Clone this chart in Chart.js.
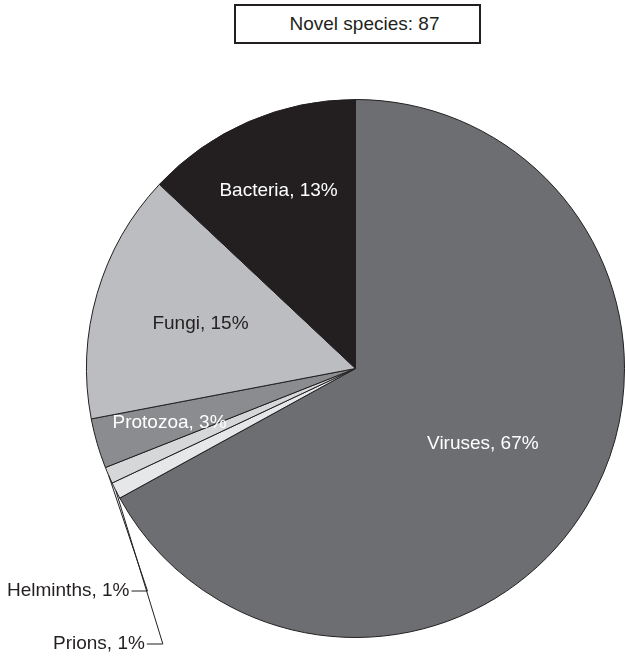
<!DOCTYPE html>
<html>
<head>
<meta charset="utf-8">
<script src="https://cdn.jsdelivr.net/npm/chart.js@4"></script>
<style>
  body { margin: 0; background: #fff; }
  #wrap { position: relative; width: 625px; height: 658px; overflow: hidden; }
  #total {
    position: absolute; left: 234px; top: 4px; width: 243px; height: 36px;
    border: 2px solid #231f20; background: #fff;
    font: 19px "Liberation Sans", Arial, sans-serif; color: #231f20;
    line-height: 36px; text-align: center; padding-left: 0; box-sizing: content-box;
  }
  #total span { position: relative; left: 7px; }
</style>
</head>
<body>
<div id="wrap">
  <canvas id="myChart" width="625" height="658"></canvas>
  <div id="total"><span>Novel species: 87</span></div>
</div>
<script>
// Share of novel pathogen species by group (%), clockwise from the top
const categories = ['Viruses', 'Prions', 'Helminths', 'Protozoa', 'Fungi', 'Bacteria'];
const shares = [67, 1, 1, 3, 15, 13];

const sliceColors = ['#6d6e71', '#e6e7e8', '#d6d7d8', '#8b8c8f', '#bcbdc0', '#231f20'];
const labelColors = ['#ffffff', '#231f20', '#231f20', '#ffffff', '#231f20', '#ffffff'];
// how far out along the slice the label sits (fraction of radius)
const labelRadius = [0.55, 0, 0, 0.72, 0.6, 0.72];
// small slices get their label outside with a leader line (left x, middle y)
const callouts = {
  Prions: [53, 644],
  Helminths: [7, 591]
};

const sliceLabels = {
  id: 'sliceLabels',
  afterDatasetsDraw(chart) {
    const ctx = chart.ctx;
    const meta = chart.getDatasetMeta(0);
    ctx.save();
    ctx.font = '19px "Liberation Sans", Arial, sans-serif';
    ctx.textBaseline = 'middle';
    meta.data.forEach((arc, i) => {
      const text = `${categories[i]}, ${shares[i]}%`;
      const mid = (arc.startAngle + arc.endAngle) / 2;
      const c = callouts[categories[i]];
      if (c) {
        const w = ctx.measureText(text).width;
        const ex = arc.x + Math.cos(mid) * arc.outerRadius;
        const ey = arc.y + Math.sin(mid) * arc.outerRadius;
        ctx.fillStyle = labelColors[i];
        ctx.textAlign = 'left';
        ctx.fillText(text, c[0], c[1]);
        ctx.strokeStyle = '#231f20';
        ctx.lineWidth = 1;
        ctx.beginPath();
        ctx.moveTo(c[0] + w + 2, c[1]);
        ctx.lineTo(c[0] + w + 18, c[1]);
        ctx.lineTo(ex, ey);
        ctx.stroke();
        return;
      }
      const r = arc.outerRadius * labelRadius[i];
      ctx.fillStyle = labelColors[i];
      ctx.textAlign = 'center';
      ctx.fillText(text, arc.x + Math.cos(mid) * r, arc.y + Math.sin(mid) * r);
    });
    ctx.restore();
  }
};

const ctx = document.querySelector('#myChart');
new Chart(ctx, {
  type: 'pie',
  data: {
    labels: categories,
    datasets: [{
      data: shares,
      backgroundColor: sliceColors,
      borderColor: '#231f20',
      borderWidth: 1,
      hoverOffset: 0
    }]
  },
  options: {
    responsive: false,
    animation: false,
    layout: { padding: { left: 86, top: 99, right: 0, bottom: 20 } },
    plugins: {
      legend: { display: false },
      tooltip: { enabled: false }
    }
  },
  plugins: [sliceLabels]
});
</script>
</body>
</html>
